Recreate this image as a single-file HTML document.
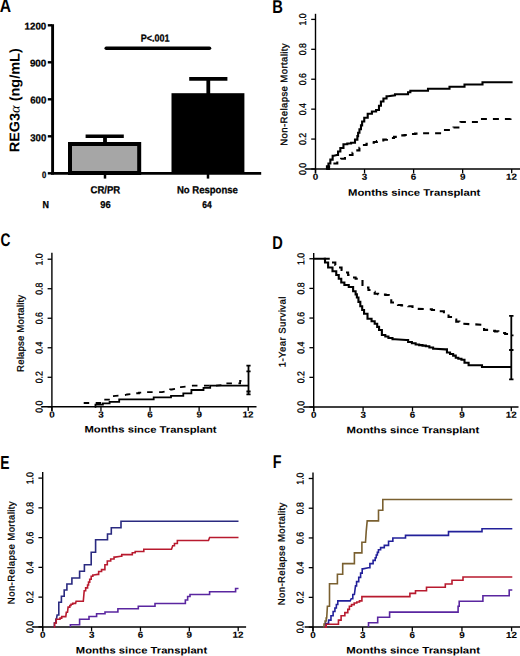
<!DOCTYPE html>
<html><head><meta charset="utf-8"><style>
html,body{margin:0;padding:0;background:#fff;overflow:hidden;}
svg{display:block;}
text{font-family:"Liberation Sans", sans-serif;}
</style></head><body>
<svg width="520" height="656" viewBox="0 0 520 656">
<rect width="520" height="656" fill="#fff"/>
<text transform="translate(-0.29 12.30) rotate(0.03) scale(0.8448 1)" font-size="18.55" font-weight="bold" fill="#000" >A</text>
<line x1="52.6" y1="24.2" x2="52.6" y2="174.6" stroke="#000" stroke-width="2.9"/>
<line x1="47.8" y1="25.30" x2="52" y2="25.30" stroke="#000" stroke-width="2.4"/>
<line x1="47.8" y1="62.30" x2="52" y2="62.30" stroke="#000" stroke-width="2.4"/>
<line x1="47.8" y1="99.30" x2="52" y2="99.30" stroke="#000" stroke-width="2.4"/>
<line x1="47.8" y1="136.30" x2="52" y2="136.30" stroke="#000" stroke-width="2.4"/>
<line x1="47.8" y1="173.30" x2="52" y2="173.30" stroke="#000" stroke-width="2.4"/>
<text transform="translate(24.59 29.38) rotate(0.03) scale(0.9954 1)" font-size="9.79" font-weight="bold" fill="#000" stroke="#000" stroke-width="0.251" >1200</text>
<text transform="translate(29.88 66.48) rotate(0.03) scale(1.0058 1)" font-size="9.79" font-weight="bold" fill="#000" stroke="#000" stroke-width="0.249" >900</text>
<text transform="translate(30.19 103.48) rotate(0.03) scale(0.9586 1)" font-size="10.07" font-weight="bold" fill="#000" stroke="#000" stroke-width="0.261" >600</text>
<text transform="translate(30.29 141.18) rotate(0.03) scale(0.9526 1)" font-size="10.07" font-weight="bold" fill="#000" stroke="#000" stroke-width="0.262" >300</text>
<text transform="translate(41.92 177.58) rotate(0.03) scale(0.8339 1)" font-size="9.21" font-weight="bold" fill="#000" stroke="#000" stroke-width="0.300" >0</text>
<line x1="51.2" y1="173.3" x2="261.2" y2="173.3" stroke="#000" stroke-width="2.8"/>
<line x1="105" y1="173" x2="105" y2="178.6" stroke="#000" stroke-width="2.5"/>
<line x1="208" y1="173" x2="208" y2="178.6" stroke="#000" stroke-width="2.5"/>
<rect x="70" y="144" width="69.2" height="29" fill="#a6a6a6" stroke="#000" stroke-width="4"/>
<rect x="171.5" y="93.2" width="72.9" height="80" fill="#000"/>
<line x1="105" y1="136.3" x2="105" y2="143" stroke="#000" stroke-width="3.8"/>
<line x1="85.6" y1="136.3" x2="123.8" y2="136.3" stroke="#000" stroke-width="3.6"/>
<line x1="208.3" y1="78.9" x2="208.3" y2="94" stroke="#000" stroke-width="3.8"/>
<line x1="189.2" y1="78.9" x2="227.4" y2="78.9" stroke="#000" stroke-width="3.6"/>
<line x1="106.2" y1="48.2" x2="209.5" y2="48.2" stroke="#000" stroke-width="3.5" stroke-linecap="round"/>
<text transform="translate(140.84 41.38) rotate(0.03) scale(0.8937 1)" font-size="10.07" font-weight="bold" fill="#000" stroke="#000" stroke-width="0.280" >P&lt;.001</text>
<text transform="translate(90.54 193.28) rotate(0.03) scale(0.9354 1)" font-size="10.22" font-weight="bold" fill="#000" stroke="#000" stroke-width="0.267" >CR/PR</text>
<text transform="translate(176.90 193.28) rotate(0.03) scale(0.9359 1)" font-size="10.22" font-weight="bold" fill="#000" stroke="#000" stroke-width="0.267" >No Response</text>
<text transform="translate(42.45 207.97) rotate(0.03) scale(0.8834 1)" font-size="10.07" font-weight="bold" fill="#000" stroke="#000" stroke-width="0.283" >N</text>
<text transform="translate(100.30 207.97) rotate(0.03) scale(0.9442 1)" font-size="9.93" font-weight="bold" fill="#000" stroke="#000" stroke-width="0.265" >96</text>
<text transform="translate(202.33 207.97) rotate(0.03) scale(0.8519 1)" font-size="9.93" font-weight="bold" fill="#000" stroke="#000" stroke-width="0.293" >64</text>
<text transform="translate(19.4 100.3) rotate(-89.95)" font-size="14" font-weight="bold" text-anchor="middle" textLength="104" lengthAdjust="spacingAndGlyphs">REG3<tspan font-family="Liberation Serif" font-style="italic" font-weight="normal">&#945;</tspan> (ng/mL)</text>
<line x1="315.5" y1="13.8" x2="315.5" y2="173.3" stroke="#000" stroke-width="1.4"/>
<line x1="305.4" y1="169" x2="520" y2="169" stroke="#000" stroke-width="1.5"/>
<line x1="311.2" y1="169.00" x2="315.5" y2="169.00" stroke="#000" stroke-width="1.3"/>
<text transform="translate(306.00 175.05) rotate(-89.95) scale(0.8800 1)" font-size="9.90" font-weight="normal" fill="#000" stroke="#000" stroke-width="0.300">0.0</text>
<line x1="311.2" y1="139.08" x2="315.5" y2="139.08" stroke="#000" stroke-width="1.3"/>
<text transform="translate(306.00 145.09) rotate(-89.95) scale(0.8800 1)" font-size="9.90" font-weight="normal" fill="#000" stroke="#000" stroke-width="0.300">0.2</text>
<line x1="311.2" y1="109.16" x2="315.5" y2="109.16" stroke="#000" stroke-width="1.3"/>
<text transform="translate(306.00 115.26) rotate(-89.95) scale(0.8800 1)" font-size="9.90" font-weight="normal" fill="#000" stroke="#000" stroke-width="0.300">0.4</text>
<line x1="311.2" y1="79.24" x2="315.5" y2="79.24" stroke="#000" stroke-width="1.3"/>
<text transform="translate(306.00 85.27) rotate(-89.95) scale(0.8800 1)" font-size="9.90" font-weight="normal" fill="#000" stroke="#000" stroke-width="0.300">0.6</text>
<line x1="311.2" y1="49.32" x2="315.5" y2="49.32" stroke="#000" stroke-width="1.3"/>
<text transform="translate(306.00 55.37) rotate(-89.95) scale(0.8800 1)" font-size="9.90" font-weight="normal" fill="#000" stroke="#000" stroke-width="0.300">0.8</text>
<line x1="311.2" y1="19.40" x2="315.5" y2="19.40" stroke="#000" stroke-width="1.3"/>
<text transform="translate(306.00 25.61) rotate(-89.95) scale(0.8800 1)" font-size="9.90" font-weight="normal" fill="#000" stroke="#000" stroke-width="0.300">1.0</text>
<line x1="315.50" y1="169" x2="315.50" y2="173.3" stroke="#000" stroke-width="1.3"/>
<text transform="translate(312.76 179.80) rotate(0.03) scale(1.1200 1)" font-size="8.80" font-weight="bold" fill="#000" stroke="#000" stroke-width="0.100">0</text>
<line x1="364.55" y1="169" x2="364.55" y2="173.3" stroke="#000" stroke-width="1.3"/>
<text transform="translate(361.86 179.80) rotate(0.03) scale(1.1200 1)" font-size="8.80" font-weight="bold" fill="#000" stroke="#000" stroke-width="0.100">3</text>
<line x1="413.60" y1="169" x2="413.60" y2="173.3" stroke="#000" stroke-width="1.3"/>
<text transform="translate(410.86 179.80) rotate(0.03) scale(1.1200 1)" font-size="8.80" font-weight="bold" fill="#000" stroke="#000" stroke-width="0.100">6</text>
<line x1="462.65" y1="169" x2="462.65" y2="173.3" stroke="#000" stroke-width="1.3"/>
<text transform="translate(459.91 179.80) rotate(0.03) scale(1.1200 1)" font-size="8.80" font-weight="bold" fill="#000" stroke="#000" stroke-width="0.100">9</text>
<line x1="511.70" y1="169" x2="511.70" y2="173.3" stroke="#000" stroke-width="1.3"/>
<text transform="translate(506.11 179.80) rotate(0.03) scale(1.1200 1)" font-size="8.80" font-weight="bold" fill="#000" stroke="#000" stroke-width="0.100">12</text>
<text transform="translate(287.30 145.77) rotate(-89.95)" font-size="9.6" letter-spacing="0.371" fill="#000" stroke="#000" stroke-width="0.3">Non-Relapse Mortality</text>
<text transform="translate(348.02 195.70) rotate(0.03) scale(1.2001 1)" font-size="9.42" font-weight="bold" fill="#000" >Months since Transplant</text>
<text transform="translate(272.24 12.60) rotate(0.03) scale(0.7953 1)" font-size="18.55" font-weight="bold" fill="#000" >B</text>
<path d="M326.20,169.00 H326.95 V166.25 H328.45 V163.50 H329.20 H330.35 V159.65 H332.65 V155.80 H333.80 L336.90,155.00 H338.05 V151.50 H340.35 V148.00 H341.50 H343.45 V144.20 H345.40 H347.30 V143.45 H351.10 V142.70 H353.00 H355.00 V139.60 H357.00 H357.38 V136.15 H358.12 V132.70 H358.50 H359.45 V129.20 H360.40 H360.97 V125.35 H362.12 V121.50 H362.70 H364.25 V117.70 H365.80 H367.70 V113.80 H369.60 H371.90 V111.50 H374.20 H376.10 V110.00 H378.00 H378.98 V105.75 H380.92 V101.50 H381.90 H383.45 V98.50 H385.00 H386.55 V96.20 H388.10 L395.00,95.40 L395.00,94.30 L407.30,94.30 H408.05 V92.30 H408.80 H410.35 V90.80 H411.90 L428.00,90.80 L428.00,88.70 L449.50,88.70 L449.50,86.70 L464.50,86.70 L464.50,84.50 L482.50,84.50 L482.50,82.20 L512.60,82.20" fill="none" stroke="#000" stroke-width="2.1"/>
<path d="M326.90,169.00 H329.02 V166.25 H333.27 V163.50 H335.40 H337.30 V161.15 H341.10 V158.80 H343.00 H344.95 V156.90 H348.85 V155.00 H350.80 H352.52 V152.70 H355.98 V150.40 H357.70 H359.42 V147.70 H362.88 V145.00 H364.60 H366.53 V143.85 H370.38 V142.70 H372.30 H373.83 V141.93 H376.90 V141.17 H379.97 V140.40 H381.50 H383.30 V139.60 H386.90 V138.80 H390.50 V138.00 H392.30 H394.02 V136.90 H397.48 V135.80 H399.20 H401.00 V135.37 H404.60 V134.93 H408.20 V134.50 H410.00 H411.67 V134.07 H415.00 V133.63 H418.33 V133.20 H420.00 L445.00,133.20 L445.00,130.00 L453.50,130.00 L453.50,127.50 L460.50,127.50 L460.50,122.00 L482.00,122.00 L482.00,119.00 L510.50,119.00 L510.50,116.30 L512.60,116.30" fill="none" stroke="#000" stroke-width="2.1" stroke-dasharray="6,6"/>
<line x1="51.9" y1="252.8" x2="51.9" y2="411.1" stroke="#000" stroke-width="1.4"/>
<line x1="41.3" y1="406.8" x2="256.5" y2="406.8" stroke="#000" stroke-width="1.5"/>
<line x1="47.6" y1="406.80" x2="51.9" y2="406.80" stroke="#000" stroke-width="1.3"/>
<text transform="translate(42.40 412.85) rotate(-89.95) scale(0.8800 1)" font-size="9.90" font-weight="normal" fill="#000" stroke="#000" stroke-width="0.300">0.0</text>
<line x1="47.6" y1="377.28" x2="51.9" y2="377.28" stroke="#000" stroke-width="1.3"/>
<text transform="translate(42.40 383.29) rotate(-89.95) scale(0.8800 1)" font-size="9.90" font-weight="normal" fill="#000" stroke="#000" stroke-width="0.300">0.2</text>
<line x1="47.6" y1="347.76" x2="51.9" y2="347.76" stroke="#000" stroke-width="1.3"/>
<text transform="translate(42.40 353.86) rotate(-89.95) scale(0.8800 1)" font-size="9.90" font-weight="normal" fill="#000" stroke="#000" stroke-width="0.300">0.4</text>
<line x1="47.6" y1="318.24" x2="51.9" y2="318.24" stroke="#000" stroke-width="1.3"/>
<text transform="translate(42.40 324.27) rotate(-89.95) scale(0.8800 1)" font-size="9.90" font-weight="normal" fill="#000" stroke="#000" stroke-width="0.300">0.6</text>
<line x1="47.6" y1="288.72" x2="51.9" y2="288.72" stroke="#000" stroke-width="1.3"/>
<text transform="translate(42.40 294.77) rotate(-89.95) scale(0.8800 1)" font-size="9.90" font-weight="normal" fill="#000" stroke="#000" stroke-width="0.300">0.8</text>
<line x1="47.6" y1="259.20" x2="51.9" y2="259.20" stroke="#000" stroke-width="1.3"/>
<text transform="translate(42.40 265.41) rotate(-89.95) scale(0.8800 1)" font-size="9.90" font-weight="normal" fill="#000" stroke="#000" stroke-width="0.300">1.0</text>
<line x1="51.90" y1="406.8" x2="51.90" y2="411.1" stroke="#000" stroke-width="1.3"/>
<text transform="translate(49.16 417.60) rotate(0.03) scale(1.1200 1)" font-size="8.80" font-weight="bold" fill="#000" stroke="#000" stroke-width="0.100">0</text>
<line x1="100.97" y1="406.8" x2="100.97" y2="411.1" stroke="#000" stroke-width="1.3"/>
<text transform="translate(98.29 417.60) rotate(0.03) scale(1.1200 1)" font-size="8.80" font-weight="bold" fill="#000" stroke="#000" stroke-width="0.100">3</text>
<line x1="150.05" y1="406.8" x2="150.05" y2="411.1" stroke="#000" stroke-width="1.3"/>
<text transform="translate(147.31 417.60) rotate(0.03) scale(1.1200 1)" font-size="8.80" font-weight="bold" fill="#000" stroke="#000" stroke-width="0.100">6</text>
<line x1="199.12" y1="406.8" x2="199.12" y2="411.1" stroke="#000" stroke-width="1.3"/>
<text transform="translate(196.39 417.60) rotate(0.03) scale(1.1200 1)" font-size="8.80" font-weight="bold" fill="#000" stroke="#000" stroke-width="0.100">9</text>
<line x1="248.20" y1="406.8" x2="248.20" y2="411.1" stroke="#000" stroke-width="1.3"/>
<text transform="translate(242.61 417.60) rotate(0.03) scale(1.1200 1)" font-size="8.80" font-weight="bold" fill="#000" stroke="#000" stroke-width="0.100">12</text>
<text transform="translate(23.70 371.97) rotate(-89.95)" font-size="9.6" letter-spacing="0.185" fill="#000" stroke="#000" stroke-width="0.3">Relapse Mortality</text>
<text transform="translate(84.47 432.60) rotate(0.03) scale(1.1987 1)" font-size="9.42" font-weight="bold" fill="#000" >Months since Transplant</text>
<text transform="translate(0.45 246.40) rotate(0.03) scale(0.7514 1)" font-size="18.29" font-weight="bold" fill="#000" >C</text>
<path d="M94.70,406.80 H95.45 V404.70 H96.20 L102.90,404.70 L102.90,403.30 L109.60,403.30 L109.60,401.80 L119.20,401.80 L119.20,399.30 L153.70,399.30 L153.70,397.30 L171.00,397.30 L171.00,395.80 L183.30,395.80 L183.30,393.30 L191.40,393.30 L191.40,390.00 L203.50,390.00 L203.50,387.80 L210.20,387.80 L210.20,385.70 L248.50,385.70" fill="none" stroke="#000" stroke-width="1.8"/>
<path d="M83.70,403.00 L102.50,403.00 L102.50,399.60 L110.50,399.60 L110.50,396.30 L125.00,395.10 L127.00,394.50 L134.00,393.80 H135.67 V393.23 H139.00 V392.67 H142.33 V392.10 H144.00 L162.00,392.10 L168.60,391.00 H170.15 V389.50 H171.70 L177.50,388.50 H179.20 V387.10 H180.90 L187.60,386.50 L192.40,385.70 L215.00,385.70 L225.40,384.80 H226.10 V383.30 H226.80 L238.00,383.30 H240.10 V380.80 H242.20 L248.50,380.80" fill="none" stroke="#000" stroke-width="1.8" stroke-dasharray="5.5,6.5"/>
<path d="M248.50,365.60 L248.50,394.40 M246.40,365.60 L250.60,365.60 M246.40,371.30 L250.60,371.30 M246.40,391.50 L250.60,391.50 M246.40,394.40 L250.60,394.40" fill="none" stroke="#000" stroke-width="1.8"/>
<line x1="313.7" y1="253.1" x2="313.7" y2="411.3" stroke="#000" stroke-width="1.4"/>
<line x1="303.75" y1="407" x2="518.5" y2="407" stroke="#000" stroke-width="1.5"/>
<line x1="309.4" y1="407.00" x2="313.7" y2="407.00" stroke="#000" stroke-width="1.3"/>
<text transform="translate(304.20 413.05) rotate(-89.95) scale(0.8800 1)" font-size="9.90" font-weight="normal" fill="#000" stroke="#000" stroke-width="0.300">0.0</text>
<line x1="309.4" y1="377.35" x2="313.7" y2="377.35" stroke="#000" stroke-width="1.3"/>
<text transform="translate(304.20 383.36) rotate(-89.95) scale(0.8800 1)" font-size="9.90" font-weight="normal" fill="#000" stroke="#000" stroke-width="0.300">0.2</text>
<line x1="309.4" y1="347.70" x2="313.7" y2="347.70" stroke="#000" stroke-width="1.3"/>
<text transform="translate(304.20 353.80) rotate(-89.95) scale(0.8800 1)" font-size="9.90" font-weight="normal" fill="#000" stroke="#000" stroke-width="0.300">0.4</text>
<line x1="309.4" y1="318.05" x2="313.7" y2="318.05" stroke="#000" stroke-width="1.3"/>
<text transform="translate(304.20 324.08) rotate(-89.95) scale(0.8800 1)" font-size="9.90" font-weight="normal" fill="#000" stroke="#000" stroke-width="0.300">0.6</text>
<line x1="309.4" y1="288.40" x2="313.7" y2="288.40" stroke="#000" stroke-width="1.3"/>
<text transform="translate(304.20 294.45) rotate(-89.95) scale(0.8800 1)" font-size="9.90" font-weight="normal" fill="#000" stroke="#000" stroke-width="0.300">0.8</text>
<line x1="309.4" y1="258.75" x2="313.7" y2="258.75" stroke="#000" stroke-width="1.3"/>
<text transform="translate(304.20 264.96) rotate(-89.95) scale(0.8800 1)" font-size="9.90" font-weight="normal" fill="#000" stroke="#000" stroke-width="0.300">1.0</text>
<line x1="313.70" y1="407" x2="313.70" y2="411.3" stroke="#000" stroke-width="1.3"/>
<text transform="translate(310.96 417.80) rotate(0.03) scale(1.1200 1)" font-size="8.80" font-weight="bold" fill="#000" stroke="#000" stroke-width="0.100">0</text>
<line x1="363.10" y1="407" x2="363.10" y2="411.3" stroke="#000" stroke-width="1.3"/>
<text transform="translate(360.41 417.80) rotate(0.03) scale(1.1200 1)" font-size="8.80" font-weight="bold" fill="#000" stroke="#000" stroke-width="0.100">3</text>
<line x1="412.50" y1="407" x2="412.50" y2="411.3" stroke="#000" stroke-width="1.3"/>
<text transform="translate(409.76 417.80) rotate(0.03) scale(1.1200 1)" font-size="8.80" font-weight="bold" fill="#000" stroke="#000" stroke-width="0.100">6</text>
<line x1="461.90" y1="407" x2="461.90" y2="411.3" stroke="#000" stroke-width="1.3"/>
<text transform="translate(459.16 417.80) rotate(0.03) scale(1.1200 1)" font-size="8.80" font-weight="bold" fill="#000" stroke="#000" stroke-width="0.100">9</text>
<line x1="511.30" y1="407" x2="511.30" y2="411.3" stroke="#000" stroke-width="1.3"/>
<text transform="translate(505.71 417.80) rotate(0.03) scale(1.1200 1)" font-size="8.80" font-weight="bold" fill="#000" stroke="#000" stroke-width="0.100">12</text>
<text transform="translate(285.50 367.32) rotate(-89.95)" font-size="9.6" letter-spacing="0.431" fill="#000" stroke="#000" stroke-width="0.3">1-Year Survival</text>
<text transform="translate(346.56 433.30) rotate(0.03) scale(1.2042 1)" font-size="9.42" font-weight="bold" fill="#000" >Months since Transplant</text>
<text transform="translate(272.25 248.65) rotate(0.03) scale(0.7920 1)" font-size="18.48" font-weight="bold" fill="#000" >D</text>
<path d="M313.70,258.75 L323.75,258.75 H325.00 V262.50 H326.25 H328.12 V267.50 H330.00 H332.50 V271.25 H335.00 H336.25 V275.00 H337.50 H338.75 V278.75 H341.25 V282.50 H342.50 H344.38 V285.00 H346.25 H348.75 V287.00 H351.25 H353.12 V291.25 H355.00 H355.62 V294.38 H356.88 V297.50 H357.50 H358.44 V301.88 H360.31 V306.25 H361.25 H362.19 V310.00 H364.06 V313.75 H365.00 H367.50 V318.75 H370.00 H371.56 V321.25 H374.69 V323.75 H376.25 H377.19 V326.88 H379.06 V330.00 H380.00 H381.88 V335.00 H383.75 H385.31 V336.50 H388.44 V338.00 H390.00 H392.50 V339.25 H395.00 L406.25,340.00 H408.12 V342.00 H410.00 H411.88 V343.25 H415.62 V344.50 H417.50 H419.17 V345.08 H422.50 V345.67 H425.83 V346.25 H427.50 H429.38 V347.50 H433.12 V348.75 H435.00 L445.40,349.40 H446.95 V352.50 H448.50 H450.05 V354.05 H453.15 V355.60 H454.70 H455.75 V357.70 H456.80 H458.35 V358.70 H461.45 V359.70 H463.00 H464.50 V362.80 H466.00 H468.60 V365.20 H471.20 L482.00,365.20 L482.00,367.00 L511.30,367.00" fill="none" stroke="#000" stroke-width="2.1"/>
<path d="M323.75,258.75 L328.75,258.75 H331.25 V262.50 H333.75 H335.31 V265.00 H338.44 V267.50 H340.00 H341.56 V270.00 H344.69 V272.50 H346.25 H348.12 V275.00 H351.88 V277.50 H353.75 H355.62 V278.75 H359.38 V280.00 H361.25 H362.50 V285.00 H363.75 H365.31 V287.50 H368.44 V290.00 H370.00 H371.56 V291.88 H374.69 V293.75 H376.25 H378.12 V294.17 H381.88 V294.58 H385.62 V295.00 H387.50 H388.75 V298.75 H391.25 V302.50 H392.50 H394.38 V304.50 H396.25 H397.97 V304.94 H401.41 V305.38 H404.84 V305.81 H408.28 V306.25 H410.00 H412.50 V308.75 H415.00 L430.00,309.30 H431.88 V309.97 H435.65 V310.63 H439.42 V311.30 H441.30 H443.90 V314.40 H446.50 H448.55 V317.00 H452.65 V319.60 H454.70 H456.25 V321.65 H459.35 V323.70 H460.90 L481.50,324.70 H484.05 V329.90 H486.60 H488.28 V330.40 H491.62 V330.90 H494.98 V331.40 H498.32 V331.90 H500.00 H501.72 V332.93 H505.15 V333.97 H508.58 V335.00 H510.30" fill="none" stroke="#000" stroke-width="2.1" stroke-dasharray="6,6"/>
<path d="M511.30,315.80 L511.30,379.30 M509.10,315.80 L513.50,315.80 M509.10,350.00 L513.50,350.00 M509.10,379.30 L513.50,379.30 M511.30,335.40 L513.50,335.40" fill="none" stroke="#000" stroke-width="1.8"/>
<line x1="42.7" y1="471.9" x2="42.7" y2="631.1999999999999" stroke="#000" stroke-width="1.4"/>
<line x1="32.5" y1="626.9" x2="246.1" y2="626.9" stroke="#000" stroke-width="1.5"/>
<line x1="38.400000000000006" y1="626.90" x2="42.7" y2="626.90" stroke="#000" stroke-width="1.3"/>
<text transform="translate(33.20 632.95) rotate(-89.95) scale(0.8800 1)" font-size="9.90" font-weight="normal" fill="#000" stroke="#000" stroke-width="0.300">0.0</text>
<line x1="38.400000000000006" y1="597.14" x2="42.7" y2="597.14" stroke="#000" stroke-width="1.3"/>
<text transform="translate(33.20 603.15) rotate(-89.95) scale(0.8800 1)" font-size="9.90" font-weight="normal" fill="#000" stroke="#000" stroke-width="0.300">0.2</text>
<line x1="38.400000000000006" y1="567.38" x2="42.7" y2="567.38" stroke="#000" stroke-width="1.3"/>
<text transform="translate(33.20 573.48) rotate(-89.95) scale(0.8800 1)" font-size="9.90" font-weight="normal" fill="#000" stroke="#000" stroke-width="0.300">0.4</text>
<line x1="38.400000000000006" y1="537.62" x2="42.7" y2="537.62" stroke="#000" stroke-width="1.3"/>
<text transform="translate(33.20 543.65) rotate(-89.95) scale(0.8800 1)" font-size="9.90" font-weight="normal" fill="#000" stroke="#000" stroke-width="0.300">0.6</text>
<line x1="38.400000000000006" y1="507.86" x2="42.7" y2="507.86" stroke="#000" stroke-width="1.3"/>
<text transform="translate(33.20 513.91) rotate(-89.95) scale(0.8800 1)" font-size="9.90" font-weight="normal" fill="#000" stroke="#000" stroke-width="0.300">0.8</text>
<line x1="38.400000000000006" y1="478.10" x2="42.7" y2="478.10" stroke="#000" stroke-width="1.3"/>
<text transform="translate(33.20 484.31) rotate(-89.95) scale(0.8800 1)" font-size="9.90" font-weight="normal" fill="#000" stroke="#000" stroke-width="0.300">1.0</text>
<line x1="42.70" y1="626.9" x2="42.70" y2="631.1999999999999" stroke="#000" stroke-width="1.3"/>
<text transform="translate(39.96 637.70) rotate(0.03) scale(1.1200 1)" font-size="8.80" font-weight="bold" fill="#000" stroke="#000" stroke-width="0.100">0</text>
<line x1="91.58" y1="626.9" x2="91.58" y2="631.1999999999999" stroke="#000" stroke-width="1.3"/>
<text transform="translate(88.89 637.70) rotate(0.03) scale(1.1200 1)" font-size="8.80" font-weight="bold" fill="#000" stroke="#000" stroke-width="0.100">3</text>
<line x1="140.45" y1="626.9" x2="140.45" y2="631.1999999999999" stroke="#000" stroke-width="1.3"/>
<text transform="translate(137.71 637.70) rotate(0.03) scale(1.1200 1)" font-size="8.80" font-weight="bold" fill="#000" stroke="#000" stroke-width="0.100">6</text>
<line x1="189.32" y1="626.9" x2="189.32" y2="631.1999999999999" stroke="#000" stroke-width="1.3"/>
<text transform="translate(186.59 637.70) rotate(0.03) scale(1.1200 1)" font-size="8.80" font-weight="bold" fill="#000" stroke="#000" stroke-width="0.100">9</text>
<line x1="238.20" y1="626.9" x2="238.20" y2="631.1999999999999" stroke="#000" stroke-width="1.3"/>
<text transform="translate(232.61 637.70) rotate(0.03) scale(1.1200 1)" font-size="8.80" font-weight="bold" fill="#000" stroke="#000" stroke-width="0.100">12</text>
<text transform="translate(14.50 604.17) rotate(-89.95)" font-size="9.6" letter-spacing="0.396" fill="#000" stroke="#000" stroke-width="0.3">Non-Relapse Mortality</text>
<text transform="translate(75.87 653.50) rotate(0.03) scale(1.1905 1)" font-size="9.42" font-weight="bold" fill="#000" >Months since Transplant</text>
<text transform="translate(0.35 468.65) rotate(0.03) scale(0.7346 1)" font-size="18.91" font-weight="bold" fill="#000" >E</text>
<path d="M53.70,626.90 H54.40 V623.05 H55.80 V619.20 H56.50 L57.10,615.00 L58.80,615.00 L58.80,602.30 L61.40,602.30 L61.40,596.30 L64.20,596.30 L64.20,590.00 L66.90,590.00 L66.90,584.00 L71.90,584.00 L71.90,578.00 L79.60,578.00 L79.60,571.30 L84.40,571.30 L84.40,564.80 L91.20,564.80 L91.20,552.30 L95.60,552.30 L95.60,539.80 L107.50,539.80 L107.50,534.00 L111.30,534.00 L111.30,527.70 L121.00,527.70 L121.00,521.30 L238.50,521.30" fill="none" stroke="#2a2a80" stroke-width="1.6"/>
<path d="M53.70,626.90 H54.55 V623.05 H56.25 V619.20 H57.10 L60.00,619.20 L60.00,618.10 L61.70,618.10 L61.70,616.60 L65.80,616.60 L66.30,612.30 L67.50,612.30 L68.10,607.10 L69.80,607.10 L69.80,605.50 L71.00,605.50 L71.00,604.20 L72.70,604.20 L72.70,603.40 L75.60,603.40 L76.10,601.30 L83.30,601.30 L84.20,590.80 H85.65 V587.90 H87.10 H87.57 V585.00 H88.53 V582.10 H89.00 H89.72 V579.20 H91.18 V576.30 H91.90 H92.85 V575.00 H93.80 L97.70,574.40 H98.65 V571.50 H99.60 H101.55 V569.60 H103.50 H104.90 V564.80 H106.30 H107.30 V561.00 H108.30 H110.70 V559.00 H113.10 H114.05 V557.10 H115.00 L120.80,556.20 H121.75 V554.60 H122.70 L130.00,554.60 H132.30 V552.70 H134.60 H135.20 V551.50 H135.80 L143.80,551.50 L143.80,549.20 L171.50,549.20 L172.70,545.80 H174.45 V543.50 H176.20 H177.35 V540.50 H178.50 L208.50,540.50 L209.60,537.50 L238.50,537.50" fill="none" stroke="#b81a2e" stroke-width="1.6"/>
<path d="M70.40,626.90 L70.40,624.80 L79.60,624.80 L79.60,619.20 L89.00,619.20 L89.00,616.50 L96.60,616.50 L96.60,613.80 L105.00,613.80 L105.00,612.00 L117.90,612.00 L117.90,608.80 L138.30,608.80 L138.30,606.20 L155.00,606.20 L155.00,603.50 L184.20,603.50 H185.35 V600.00 H186.50 H187.65 V596.50 H188.80 H190.00 V594.50 H191.20 L209.60,594.50 L209.60,591.80 L235.60,591.80 L235.60,588.50 L238.50,588.50" fill="none" stroke="#5a26a0" stroke-width="1.6"/>
<line x1="313.0" y1="472.5" x2="313.0" y2="631.4" stroke="#000" stroke-width="1.4"/>
<line x1="304.6" y1="627.1" x2="520" y2="627.1" stroke="#000" stroke-width="1.5"/>
<line x1="308.7" y1="627.10" x2="313.0" y2="627.10" stroke="#000" stroke-width="1.3"/>
<text transform="translate(303.50 633.15) rotate(-89.95) scale(0.8800 1)" font-size="9.90" font-weight="normal" fill="#000" stroke="#000" stroke-width="0.300">0.0</text>
<line x1="308.7" y1="597.38" x2="313.0" y2="597.38" stroke="#000" stroke-width="1.3"/>
<text transform="translate(303.50 603.39) rotate(-89.95) scale(0.8800 1)" font-size="9.90" font-weight="normal" fill="#000" stroke="#000" stroke-width="0.300">0.2</text>
<line x1="308.7" y1="567.66" x2="313.0" y2="567.66" stroke="#000" stroke-width="1.3"/>
<text transform="translate(303.50 573.76) rotate(-89.95) scale(0.8800 1)" font-size="9.90" font-weight="normal" fill="#000" stroke="#000" stroke-width="0.300">0.4</text>
<line x1="308.7" y1="537.94" x2="313.0" y2="537.94" stroke="#000" stroke-width="1.3"/>
<text transform="translate(303.50 543.97) rotate(-89.95) scale(0.8800 1)" font-size="9.90" font-weight="normal" fill="#000" stroke="#000" stroke-width="0.300">0.6</text>
<line x1="308.7" y1="508.22" x2="313.0" y2="508.22" stroke="#000" stroke-width="1.3"/>
<text transform="translate(303.50 514.27) rotate(-89.95) scale(0.8800 1)" font-size="9.90" font-weight="normal" fill="#000" stroke="#000" stroke-width="0.300">0.8</text>
<line x1="308.7" y1="478.50" x2="313.0" y2="478.50" stroke="#000" stroke-width="1.3"/>
<text transform="translate(303.50 484.71) rotate(-89.95) scale(0.8800 1)" font-size="9.90" font-weight="normal" fill="#000" stroke="#000" stroke-width="0.300">1.0</text>
<line x1="313.00" y1="627.1" x2="313.00" y2="631.4" stroke="#000" stroke-width="1.3"/>
<text transform="translate(310.26 637.90) rotate(0.03) scale(1.1200 1)" font-size="8.80" font-weight="bold" fill="#000" stroke="#000" stroke-width="0.100">0</text>
<line x1="362.65" y1="627.1" x2="362.65" y2="631.4" stroke="#000" stroke-width="1.3"/>
<text transform="translate(359.96 637.90) rotate(0.03) scale(1.1200 1)" font-size="8.80" font-weight="bold" fill="#000" stroke="#000" stroke-width="0.100">3</text>
<line x1="412.30" y1="627.1" x2="412.30" y2="631.4" stroke="#000" stroke-width="1.3"/>
<text transform="translate(409.56 637.90) rotate(0.03) scale(1.1200 1)" font-size="8.80" font-weight="bold" fill="#000" stroke="#000" stroke-width="0.100">6</text>
<line x1="461.95" y1="627.1" x2="461.95" y2="631.4" stroke="#000" stroke-width="1.3"/>
<text transform="translate(459.21 637.90) rotate(0.03) scale(1.1200 1)" font-size="8.80" font-weight="bold" fill="#000" stroke="#000" stroke-width="0.100">9</text>
<line x1="511.60" y1="627.1" x2="511.60" y2="631.4" stroke="#000" stroke-width="1.3"/>
<text transform="translate(506.01 637.90) rotate(0.03) scale(1.1200 1)" font-size="8.80" font-weight="bold" fill="#000" stroke="#000" stroke-width="0.100">12</text>
<text transform="translate(284.80 605.27) rotate(-89.95)" font-size="9.6" letter-spacing="0.381" fill="#000" stroke="#000" stroke-width="0.3">Non-Relapse Mortality</text>
<text transform="translate(346.26 653.40) rotate(0.03) scale(1.2124 1)" font-size="9.42" font-weight="bold" fill="#000" >Months since Transplant</text>
<text transform="translate(272.82 468.40) rotate(0.03) scale(0.7716 1)" font-size="18.55" font-weight="bold" fill="#000" >F</text>
<path d="M323.50,627.10 H324.03 V624.07 H325.10 V621.03 H326.17 V618.00 H326.70 L327.40,606.20 L329.50,606.20 L329.50,583.80 L337.40,583.80 L337.40,574.20 L342.70,574.20 L342.70,563.60 L354.40,563.60 L354.40,552.90 L361.90,552.90 L361.90,542.20 L365.50,542.20 L366.20,531.60 L367.20,520.90 L378.50,520.90 L378.50,510.30 L382.80,510.30 L382.80,499.50 L512.30,499.50" fill="none" stroke="#7a6030" stroke-width="1.6"/>
<path d="M324.60,627.10 H325.93 V623.60 H328.57 V620.10 H329.90 H330.97 V615.80 H333.12 V611.50 H334.20 H334.92 V607.97 H336.35 V604.43 H337.78 V600.90 H338.50 L350.20,600.90 L351.20,598.70 H352.80 V594.50 H354.40 L355.50,585.90 H356.57 V581.65 H358.73 V577.40 H359.80 H360.60 V573.15 H362.20 V568.90 H363.00 L368.30,567.80 H369.90 V563.60 H371.50 H373.10 V560.40 H374.70 H375.23 V557.70 H376.27 V555.00 H376.80 H377.35 V552.35 H378.45 V549.70 H379.00 H380.60 V547.60 H382.20 H384.30 V545.40 H386.40 H388.55 V541.20 H390.70 H392.85 V538.00 H395.00 L405.50,538.00 L405.50,535.40 L448.50,535.40 L448.50,531.60 L482.00,531.60 L482.00,528.70 L512.30,528.70" fill="none" stroke="#22209a" stroke-width="1.6"/>
<path d="M324.60,627.10 H326.20 V624.30 H327.80 L337.40,624.30 H338.45 V620.10 H339.50 H341.10 V615.80 H342.70 H344.85 V612.60 H347.00 H347.80 V609.40 H349.40 V606.20 H350.20 H351.52 V604.60 H354.18 V603.00 H355.50 H356.82 V601.95 H359.48 V600.90 H360.80 H361.90 V596.60 H363.00 L409.90,596.60 L409.90,593.40 L415.50,593.40 L415.50,590.70 L426.50,590.70 L426.50,587.30 L445.30,587.30 L445.30,584.00 L452.00,584.00 L452.00,580.30 L463.00,580.30 L463.00,577.00 L512.30,577.00" fill="none" stroke="#b81a2e" stroke-width="1.6"/>
<path d="M368.50,627.10 L368.50,622.70 L377.70,622.70 L377.70,617.30 L389.60,617.30 L389.60,612.10 L458.10,612.10 L458.10,606.20 H459.20 V601.30 H460.30 L482.90,601.30 L482.90,595.80 L509.20,595.80 L509.20,590.00 L512.30,590.00" fill="none" stroke="#5a26a0" stroke-width="1.6"/>
</svg>
</body></html>
